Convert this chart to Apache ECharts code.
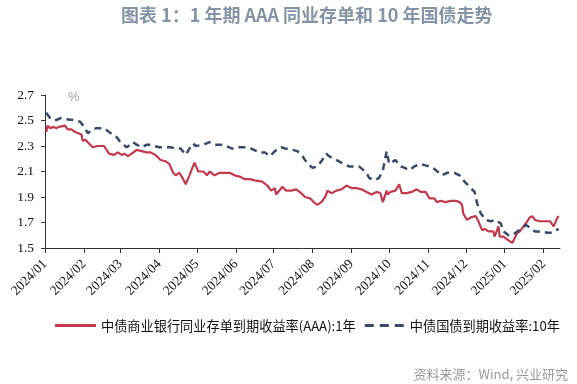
<!DOCTYPE html>
<html>
<head>
<meta charset="utf-8">
<script src="https://cdn.jsdelivr.net/npm/echarts@6/dist/echarts.min.js"></script>
<style>html,body{margin:0;padding:0;background:#fff;}#c{width:577px;height:384px;}</style>
</head>
<body>
<div id="c"></div>
<script>
var titleText = '图表 1：1 年期 AAA 同业存单和 10 年国债走势';
var seriesNames = ['中债商业银行同业存单到期收益率(AAA):1年', '中债国债到期收益率:10年'];
var yTicks = [1.5, 1.7, 1.9, 2.1, 2.3, 2.5, 2.7];

var ncdDates = ['2024-01-02','2024-01-03','2024-01-05','2024-01-08','2024-01-10','2024-01-12','2024-01-17','2024-01-19','2024-01-22','2024-01-25','2024-01-26','2024-01-30','2024-01-31','2024-02-02','2024-02-05','2024-02-08','2024-02-12','2024-02-17','2024-02-21','2024-02-25','2024-02-28','2024-03-02','2024-03-04','2024-03-07','2024-03-10','2024-03-14','2024-03-18','2024-03-22','2024-03-25','2024-03-29','2024-04-02','2024-04-06','2024-04-09','2024-04-12','2024-04-14','2024-04-17','2024-04-20','2024-04-22','2024-04-25','2024-04-29','2024-05-02','2024-05-06','2024-05-09','2024-05-11','2024-05-15','2024-05-19','2024-05-23','2024-05-27','2024-05-31','2024-06-04','2024-06-08','2024-06-12','2024-06-16','2024-06-17','2024-06-22','2024-06-26','2024-06-29','2024-07-02','2024-07-03','2024-07-08','2024-07-11','2024-07-15','2024-07-19','2024-07-23','2024-07-26','2024-07-30','2024-08-03','2024-08-05','2024-08-08','2024-08-11','2024-08-13','2024-08-16','2024-08-20','2024-08-24','2024-08-28','2024-09-01','2024-09-05','2024-09-09','2024-09-13','2024-09-17','2024-09-21','2024-09-24','2024-09-26','2024-09-29','2024-09-30','2024-10-02','2024-10-06','2024-10-09','2024-10-11','2024-10-15','2024-10-19','2024-10-23','2024-10-26','2024-10-30','2024-11-02','2024-11-06','2024-11-08','2024-11-11','2024-11-15','2024-11-19','2024-11-23','2024-11-26','2024-11-27','2024-11-28','2024-11-29','2024-12-02','2024-12-05','2024-12-09','2024-12-11','2024-12-14','2024-12-16','2024-12-19','2024-12-23','2024-12-24','2024-12-27','2024-12-28','2024-12-31','2025-01-04','2025-01-07','2025-01-08','2025-01-11','2025-01-13','2025-01-16','2025-01-19','2025-01-21','2025-01-23','2025-01-25','2025-01-29','2025-02-02','2025-02-06','2025-02-09','2025-02-12','2025-02-13'];
var ncdValues = [2.41,2.46,2.44,2.45,2.44,2.45,2.46,2.43,2.43,2.41,2.40,2.39,2.34,2.35,2.32,2.29,2.30,2.30,2.24,2.23,2.25,2.23,2.24,2.22,2.24,2.27,2.26,2.25,2.25,2.23,2.19,2.18,2.16,2.09,2.07,2.09,2.04,2.00,2.07,2.17,2.10,2.10,2.07,2.10,2.07,2.09,2.09,2.09,2.07,2.06,2.04,2.04,2.03,2.04,2.02,1.99,1.95,1.97,1.92,1.98,1.95,1.95,1.96,1.93,1.90,1.89,1.85,1.84,1.86,1.90,1.95,1.93,1.95,1.96,1.99,1.97,1.97,1.96,1.94,1.92,1.94,1.93,1.86,1.95,1.92,1.94,1.95,2.00,1.93,1.93,1.94,1.96,1.94,1.94,1.89,1.89,1.86,1.87,1.86,1.87,1.87,1.86,1.85,1.84,1.77,1.72,1.74,1.75,1.71,1.64,1.65,1.63,1.63,1.59,1.67,1.59,1.59,1.56,1.54,1.55,1.62,1.63,1.67,1.71,1.74,1.75,1.72,1.71,1.71,1.71,1.67,1.74,1.75];

var cgbDates = ['2024-01-02','2024-01-05','2024-01-09','2024-01-14','2024-01-18','2024-01-26','2024-01-29','2024-02-02','2024-02-04','2024-02-08','2024-02-11','2024-02-17','2024-02-21','2024-02-27','2024-03-01','2024-03-06','2024-03-09','2024-03-11','2024-03-14','2024-03-18','2024-03-22','2024-03-24','2024-03-28','2024-04-01','2024-04-04','2024-04-10','2024-04-14','2024-04-18','2024-04-22','2024-04-25','2024-04-28','2024-04-30','2024-05-06','2024-05-11','2024-05-15','2024-05-20','2024-05-24','2024-05-29','2024-06-02','2024-06-08','2024-06-13','2024-06-20','2024-06-24','2024-06-28','2024-07-02','2024-07-07','2024-07-10','2024-07-16','2024-07-20','2024-07-24','2024-07-28','2024-08-01','2024-08-05','2024-08-08','2024-08-12','2024-08-14','2024-08-18','2024-08-22','2024-08-26','2024-08-30','2024-09-03','2024-09-07','2024-09-13','2024-09-15','2024-09-19','2024-09-23','2024-09-26','2024-09-29','2024-10-01','2024-10-02','2024-10-06','2024-10-10','2024-10-13','2024-10-17','2024-10-21','2024-10-26','2024-10-29','2024-11-02','2024-11-06','2024-11-12','2024-11-16','2024-11-22','2024-11-26','2024-11-30','2024-12-04','2024-12-08','2024-12-10','2024-12-13','2024-12-17','2024-12-21','2024-12-25','2024-12-29','2024-12-31','2025-01-04','2025-01-07','2025-01-11','2025-01-15','2025-01-18','2025-01-21','2025-01-25','2025-01-30','2025-02-04','2025-02-08','2025-02-11','2025-02-13'];
var cgbValues = [2.56,2.52,2.50,2.52,2.51,2.50,2.49,2.44,2.40,2.43,2.44,2.44,2.41,2.37,2.33,2.29,2.31,2.33,2.31,2.29,2.31,2.31,2.30,2.29,2.29,2.29,2.28,2.28,2.23,2.28,2.32,2.30,2.31,2.33,2.31,2.31,2.30,2.28,2.29,2.29,2.28,2.25,2.25,2.22,2.26,2.29,2.28,2.27,2.26,2.22,2.16,2.13,2.14,2.18,2.24,2.22,2.20,2.18,2.16,2.14,2.14,2.14,2.09,2.05,2.03,2.05,2.11,2.26,2.16,2.15,2.19,2.14,2.13,2.11,2.14,2.16,2.15,2.14,2.12,2.07,2.09,2.09,2.07,2.02,1.98,1.94,1.85,1.77,1.72,1.71,1.72,1.69,1.63,1.60,1.60,1.63,1.66,1.68,1.66,1.63,1.63,1.62,1.62,1.64,1.65];

function zip(d, v) { return d.map(function (x, i) { return [x, v[i]]; }); }

var RED = '#c13a4d', BLUE = '#3b4a69';
var chart = echarts.init(document.getElementById('c'), null, { renderer: 'canvas' });
var DAY = 86400000;
chart.setOption({
  animation: false,
  backgroundColor: '#fff',
  graphic: [
    { type: 'text', left: 121, top: 6, style: { text: titleText, fill: '#8593a6', font: 'bold 18px "Noto Sans CJK SC", sans-serif' } },
    { type: 'text', left: 68, top: 91, style: { text: '%', fill: '#a0a0a0', font: '13px "Liberation Sans", sans-serif' } },
    { type: 'text', right: 9, top: 368, style: { text: '资料来源：Wind, 兴业研究', fill: '#9a9a9a', font: '13px "Noto Sans CJK SC", sans-serif' } }
  ],
  grid: { left: 45, right: 17, top: 95, bottom: 136 },
  legend: {
    left: 50, top: 314, itemWidth: 41, itemHeight: 3, itemGap: 9,
    textStyle: { color: '#111', fontSize: 13.2, fontFamily: '"Noto Sans CJK SC", sans-serif' },
    data: [
      { name: seriesNames[0], icon: 'rect' },
      { name: seriesNames[1], icon: 'path://M0,0H9V3H0Z M15,0H24V3H15Z M30,0H39V3H30Z' }
    ]
  },
  xAxis: {
    type: 'time',
    min: '2024-01-01', max: '2025-02-14',
    minInterval: 28 * DAY, maxInterval: 31 * DAY,
    axisLine: { lineStyle: { color: '#333', width: 1 } },
    axisTick: { show: true, length: 5, lineStyle: { color: '#333' } },
    splitLine: { show: false },
    axisLabel: {
      rotate: 45, margin: 14, color: '#111', fontSize: 13.5, fontFamily: '"Liberation Serif", serif',
      hideOverlap: false,
      formatter: function (val) {
        var d = new Date(val);
        var m = d.getMonth() + 1;
        return d.getFullYear() + '/' + (m < 10 ? '0' + m : m);
      }
    }
  },
  yAxis: {
    type: 'value', min: yTicks[0], max: yTicks[yTicks.length - 1], interval: 0.2,
    axisLine: { show: true, lineStyle: { color: '#333', width: 1 } },
    axisTick: { show: true, length: 4, lineStyle: { color: '#333' } },
    splitLine: { show: false },
    axisLabel: { color: '#111', fontSize: 13.5, margin: 11, fontFamily: '"Liberation Serif", serif', formatter: function (v) { return v.toFixed(1); } }
  },
  series: [
    { name: seriesNames[0], type: 'line', symbol: 'none', data: zip(ncdDates, ncdValues),
      lineStyle: { color: RED, width: 2.2 }, itemStyle: { color: RED } },
    { name: seriesNames[1], type: 'line', symbol: 'none', data: zip(cgbDates, cgbValues),
      lineStyle: { color: BLUE, width: 2.5, type: [7, 5] }, itemStyle: { color: BLUE } }
  ]
});
</script>
</body>
</html>
